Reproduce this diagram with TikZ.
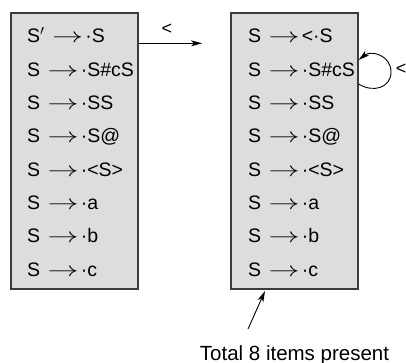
\documentclass[tikz,border=0pt]{standalone}
\usepackage{fontspec}
\setmainfont{Liberation Sans}
\usetikzlibrary{arrows.meta}
\definecolor{boxfill}{RGB}{221,221,221}
\definecolor{boxline}{RGB}{60,60,60}
\begin{document}
\begin{tikzpicture}[x=1pt,y=-1pt,
  itembox/.style={draw=boxline,fill=boxfill,line width=1.2pt,minimum width=127pt,minimum height=276pt,inner sep=0pt},
  item/.style={anchor=base west,inner sep=0pt,font=\fontsize{19.5}{21}\selectfont},
  lbl/.style={inner sep=0pt,font=\fontsize{18}{20}\selectfont},
  conn/.style={line width=0.9pt,-{Stealth[length=11pt,width=6pt,inset=3pt]}}]
\useasboundingbox (0,0) rectangle (406,363);
\node[itembox] (L) at (74.5,151) {};
\node[itembox] (R) at (294.5,151) {};
\newcommand{\arr}{\hspace{7.5pt}\scalebox{1.5}[1]{$\rightarrow$}\hspace{2pt}}
% left items
\node[item] (l1) at (27,43) {S$'$\arr·S};
\node[item] (l2) at (27,76.3) {S\arr·S\#cS};
\node[item] (l3) at (27,109.6) {S\arr·SS};
\node[item] (l4) at (27,142.9) {S\arr·S@};
\node[item] (l5) at (27,176.2) {S\arr·<S>};
\node[item] (l6) at (27,209.5) {S\arr·a};
\node[item] (l7) at (27,242.8) {S\arr·b};
\node[item] (l8) at (27,276.1) {S\arr·c};
% right items
\node[item] (r1) at (248,43) {S\arr<·S};
\node[item] (r2) at (248,76.3) {S\arr·S\#cS};
\node[item] (r3) at (248,109.6) {S\arr·SS};
\node[item] (r4) at (248,142.9) {S\arr·S@};
\node[item] (r5) at (248,176.2) {S\arr·<S>};
\node[item] (r6) at (248,209.5) {S\arr·a};
\node[item] (r7) at (248,242.8) {S\arr·b};
\node[item] (r8) at (248,276.1) {S\arr·c};
% goto arrow
\coordinate (a1) at (202,43.3);
\draw[conn] (L.east |- a1) -- (a1);
\node[lbl] (lt) at (167,29) {<};
% loop
\coordinate (lp1) at (0,84);
\coordinate (lp2) at (0,60);
\draw[conn] (R.east |- lp1) .. controls (373,93) and (391,88) .. (391,72)
  .. controls (391,55) and (371,50) .. (R.east |- lp2);
\node[lbl] (ll) at (401,69) {<};
% bottom annotation
\coordinate (b0) at (248,329);
\coordinate (b1) at (265,291);
\draw[conn] (b0) -- (b1);
\node[anchor=base,inner sep=0pt,font=\fontsize{20.5}{22}\selectfont] (tot) at (294.5,360) {Total 8 items present};
\end{tikzpicture}
\end{document}
